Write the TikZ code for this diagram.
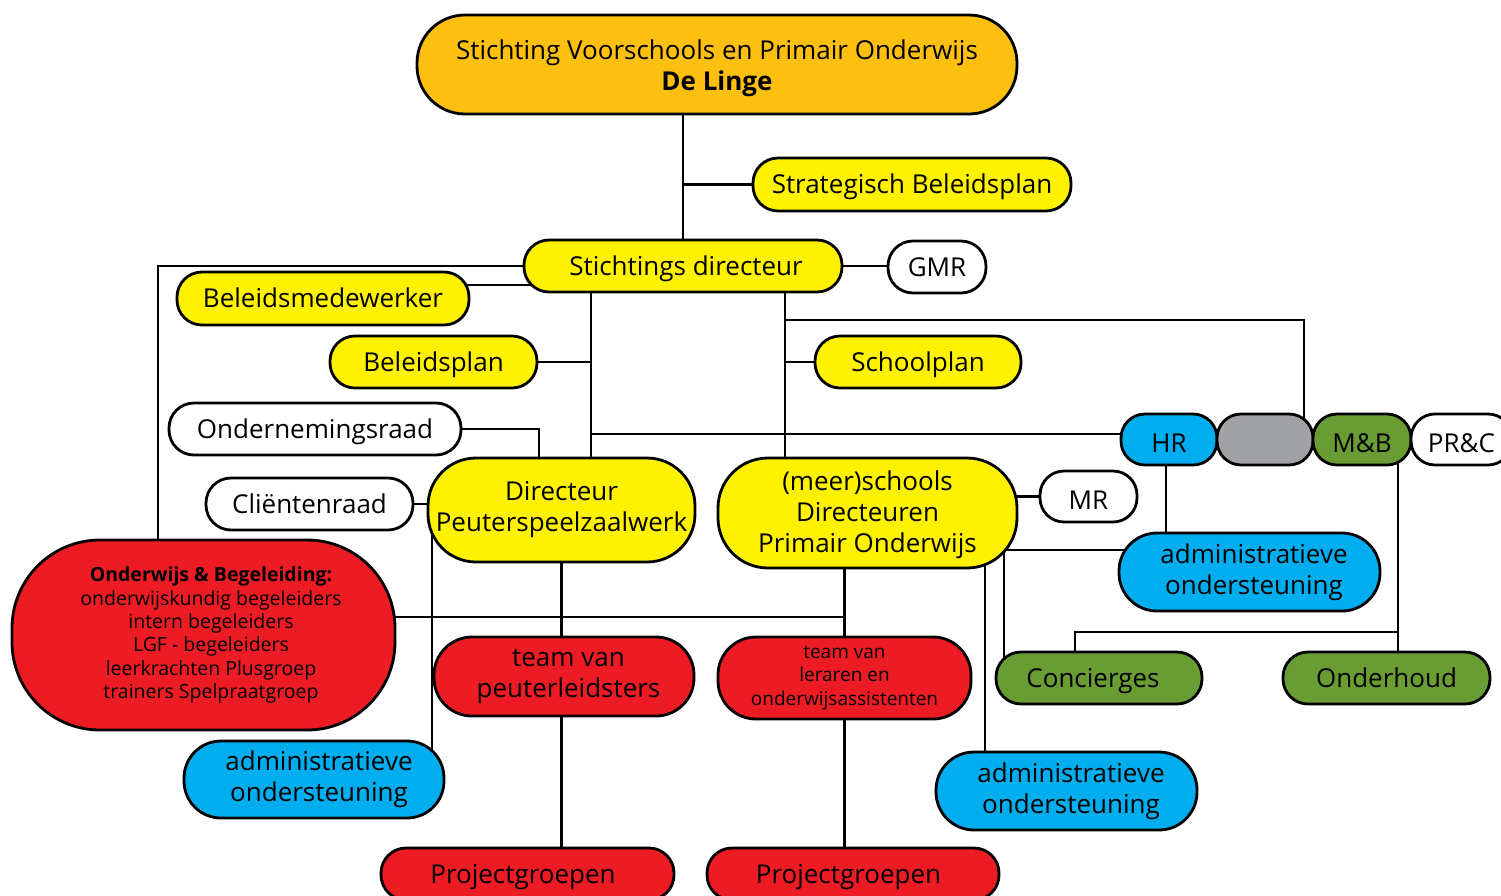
\documentclass[tikz,border=0pt]{standalone}
\usepackage{fontspec}
\setmainfont{Open Sans}
\usetikzlibrary{backgrounds,calc}
\definecolor{cOrange}{HTML}{FDC010}
\definecolor{cYellow}{HTML}{FFF200}
\definecolor{cBlue}{HTML}{00AEEF}
\definecolor{cRed}{HTML}{ED1C24}
\definecolor{cGreen}{HTML}{6A9C34}
\definecolor{cGray}{HTML}{A1A2A5}
\newcommand\mainsz{\fontsize{26}{31}\selectfont}
\newcommand\smallsz{\fontsize{19.5}{23.3}\selectfont}
\newcommand\tlsz{\fontsize{19}{23.5}\selectfont}
\newcommand\sh[1]{\hspace*{#1pt}}
\tikzset{
  box/.style={draw=black, line width=2.8pt, fill=#1, inner sep=0pt, align=center, font=\mainsz, text=black},
  wh/.style 2 args={minimum width=#1pt, minimum height=#2pt},
  one/.style={text height=23pt, text depth=4.5pt},
  onelow/.style={text height=30pt, text depth=4.5pt},
  conn/.style={line width=2.7pt, draw=black},
}
\begin{document}
\begin{tikzpicture}[x=1pt,y=-1pt]
\useasboundingbox (0,0) rectangle (1501,895);
\clip (0,0) rectangle (1501,895);

\node[box=cOrange, wh={600}{99}, rounded corners=48pt] (top) at (717,64.5) {\rule{0pt}{28pt}Stichting Voorschools en Primair Onderwijs\\\textbf{De Linge}};
\node[box=cYellow, wh={318}{53}, rounded corners=25pt, one] (strat) at (912,184.5) {Strategisch Beleidsplan};
\node[box=cYellow, wh={318}{52}, rounded corners=25pt, one] (sd) at (683,266) {\sh{6}Stichtings directeur};
\node[box=white, wh={98}{52}, rounded corners=25pt, one] (gmr) at (937,267) {GMR};
\node[box=cYellow, wh={292}{53}, rounded corners=25pt, one] (bmw) at (323,298.5) {Beleidsmedewerker};
\node[box=cYellow, wh={207}{52}, rounded corners=25pt, one] (bplan) at (433.5,362) {Beleidsplan};
\node[box=cYellow, wh={206}{52}, rounded corners=25pt, one] (splan) at (918,362) {Schoolplan};
\node[box=white, wh={292}{52}, rounded corners=25pt, one] (or) at (315,429) {Ondernemingsraad};
\node[box=white, wh={207}{52}, rounded corners=25pt, one] (cr) at (309.5,504) {Cliëntenraad};
\node[box=cYellow, wh={267}{104}, rounded corners=48pt] (dp) at (561.5,510) {Directeur\\Peuterspeelzaalwerk};
\node[box=cYellow, wh={299}{110}, rounded corners=50pt] (dpo) at (867.5,513) {\rule{0pt}{24pt}(meer)schools\\Directeuren\\Primair Onderwijs};
\node[box=white, wh={97}{51}, rounded corners=24pt, onelow] (mr) at (1088.5,496.5) {MR};
\node[box=cBlue, wh={96}{51}, rounded corners=24pt, onelow] (hr) at (1169,439.5) {HR};
\node[box=cGray, wh={96}{51}, rounded corners=24pt] (gray) at (1265,439.5) {};
\node[box=cGreen, wh={98}{51}, rounded corners=24pt, onelow] (mb) at (1362,439.5) {M\&B};
\node[box=white, wh={101}{51}, rounded corners=24pt, onelow] (prc) at (1461.5,439.5) {PR\&C};
\node[box=cBlue, wh={261}{78}, rounded corners=38pt] (admR) at (1249.5,572) {\sh{9}administratieve\\\sh{9}ondersteuning};
\node[box=cGreen, wh={206}{52}, rounded corners=25pt, one] (conc) at (1099,678) {Concierges\sh{12}};
\node[box=cGreen, wh={207}{52}, rounded corners=25pt, one] (ond) at (1386.5,678) {Onderhoud};
\node[box=cBlue, wh={261}{78}, rounded corners=38pt] (admM) at (1066.5,791) {\sh{9}administratieve\\\sh{9}ondersteuning};
\node[box=cRed, wh={383}{190}, rounded corners=88pt, font=\smallsz] (ob) at (203.5,635) {\sh{15}\textbf{Onderwijs \& Begeleiding:}\\\sh{15}onderwijskundig begeleiders\\\sh{15}intern begeleiders\\\sh{15}LGF - begeleiders\\\sh{15}leerkrachten Plusgroep\\\sh{15}trainers Spelpraatgroep};
\node[box=cRed, wh={260}{79}, rounded corners=38pt] (tp) at (564,676.5) {\sh{9}team van\\\sh{9}peuterleidsters};
\node[box=cRed, wh={253}{82}, rounded corners=38pt, font=\tlsz] (tl) at (844.5,678) {team van\\leraren en\\onderwijsassistenten};
\node[box=cBlue, wh={260}{77}, rounded corners=37pt] (admL) at (314,779.5) {\sh{10}administratieve\\\sh{10}ondersteuning};
\node[box=cRed, wh={293}{52}, rounded corners=25pt, one] (pg1) at (527.5,874) {Projectgroepen\sh{9}};
\node[box=cRed, wh={292}{52}, rounded corners=25pt, one] (pg2) at (853,874) {Projectgroepen\sh{9}};

\coordinate (v1) at ([xshift=29.5pt]dp.center);
\coordinate (v2) at ([xshift=-82.5pt]dpo.center);
\coordinate (vg) at ([xshift=39pt]gray.center);
\coordinate (vmb) at ([xshift=36pt]mb.center);
\coordinate (vc) at ([xshift=-95pt]conc.center);
\coordinate (vl) at ([xshift=118pt]admL.center);
\coordinate (vm) at ([xshift=-81.5pt]admM.center);
\coordinate (ar) at ([yshift=22pt]admR.center);
\coordinate (ob1) at ([xshift=-45.5pt]ob.center);
\coordinate (bm1) at ([yshift=13.5pt]bmw.center);
\coordinate (hr1) at ([yshift=5.5pt]hr.center);
\coordinate (hr2) at ([xshift=-3pt]hr.center);
\coordinate (dpl) at ([xshift=-22.5pt]dp.center);
\coordinate (cc) at ([xshift=-24pt]conc.center);

\begin{scope}[on background layer]
\draw[conn] (sd.center) -- (sd.center |- top.center);
\draw[conn] (strat.center) -- (strat.center -| sd.center);
\draw[conn] (sd.center) -- (sd.center -| gmr.center);
\draw[conn] (sd.center) -| (ob1);
\draw[conn] (bm1) -- (bm1 -| sd.center);
\draw[conn] (v1 |- sd.center) -- (v1);
\draw[conn] (bplan.center) -- (bplan.center -| v1);
\draw[conn] (hr1) -- (hr1 -| v1);
\draw[conn] (or.center) -| (dpl);
\draw[conn] (cr.center) -- (cr.center -| dp.center);
\draw[conn] (v2 |- sd.center) -- (v2);
\draw[conn] (v2 |- 0,320) -| (vg);
\draw[conn] (splan.center) -- (splan.center -| v2);
\draw[conn] (mr.center) -- (mr.center -| dpo.center);
\draw[conn] (hr2) -- (hr2 |- admR.center);
\draw[conn] (vc) |- (ar);
\draw[conn] (vm) -- (vm |- dpo.center);
\draw[conn] (vmb) -- (vmb |- ond.center);
\draw[conn] (cc) |- (vmb |- 0,632);
\draw[conn] (tl.center |- dpo.center) -- (tl.center |- pg2.center);
\draw[conn] (ob.center |- 0,617) -- (tl.center |- 0,617);
\draw[conn] (dp.center) -- (dp.center |- pg1.center);
\draw[conn] (vl) -- (vl |- dp.center);
\end{scope}
\end{tikzpicture}
\end{document}
